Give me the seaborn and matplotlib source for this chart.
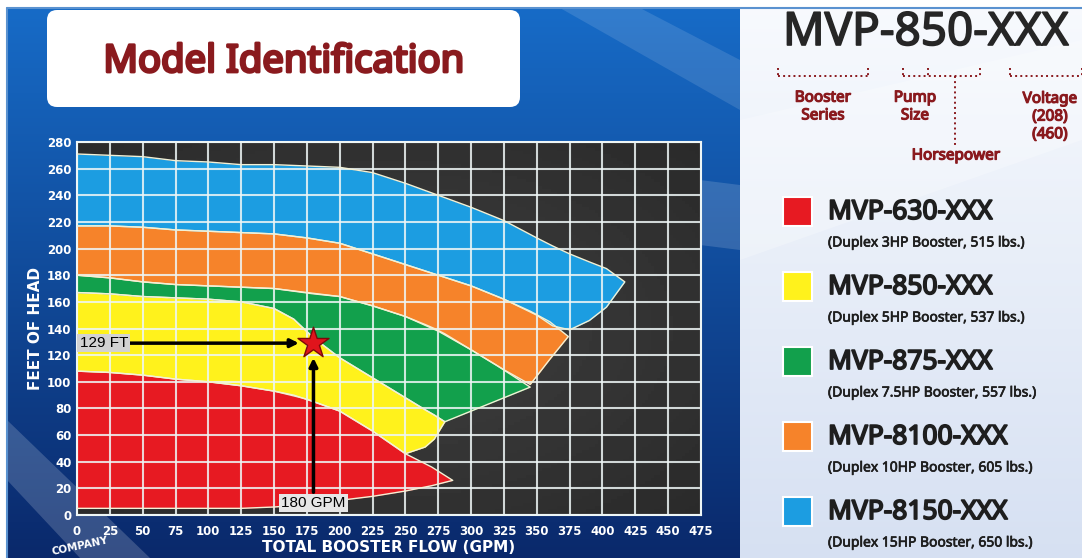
import numpy as np
import pandas as pd
import seaborn as sns
import matplotlib.pyplot as plt
import matplotlib.patheffects as pe
from matplotlib.patches import FancyBboxPatch, Rectangle, Polygon

# values (flow in GPM, head in feet)
flow_630 = [0, 25, 50, 75, 100, 125, 150, 175, 200, 225, 250, 270, 286]
top_630 = [108, 107, 105, 102, 100, 97, 93, 87, 78, 63, 46, 36, 26]
low_630 = [5, 5, 5, 5, 5, 5, 6, 8, 11, 14, 18, 22, 26]

flow_850 = [0, 25, 50, 75, 100, 125, 150, 165, 180, 200, 225, 250, 265, 272, 280]
top_850 = [167, 166, 164, 163, 162, 160, 155, 147, 133, 118, 103, 88, 79, 75, 70]
low_850 = [108, 107, 105, 102, 100, 97, 93, 90, 85, 78, 63, 46, 51, 57, 70]

flow_875 = [0, 25, 50, 75, 100, 125, 150, 165, 180, 200, 225, 250, 265, 272, 280, 300, 320, 345]
top_875 = [180, 178, 175, 173, 172, 171, 170, 168, 166, 164, 157, 149, 143, 140, 136, 124, 112, 96]
low_875 = [167, 166, 164, 163, 162, 160, 155, 147, 133, 118, 103, 88, 79, 75, 70, 78, 86, 96]

flow_8100 = [0, 25, 50, 75, 100, 125, 150, 175, 200, 225, 250, 275, 300, 325, 345, 360, 374]
top_8100 = [217, 217, 216, 214, 213, 212, 211, 208, 204, 196, 188, 180, 172, 162, 153, 145, 134]
low_8100 = [180, 178, 175, 173, 172, 171, 170, 167, 164, 157, 149, 138, 124, 109, 98, 117, 134]

flow_8150 = [0, 25, 50, 75, 100, 125, 150, 175, 200, 225, 250, 275, 300, 325, 350, 362, 375, 390, 403, 417]
top_8150 = [271, 270, 269, 266, 265, 263, 263, 262, 261, 257, 249, 240, 231, 221, 208, 202, 196, 190, 185, 175]
low_8150 = [217, 217, 216, 214, 213, 212, 211, 208, 204, 196, 188, 180, 172, 162, 150, 142, 139, 146, 156, 175]

models = ["MVP-630-XXX", "MVP-850-XXX", "MVP-875-XXX", "MVP-8100-XXX", "MVP-8150-XXX"]
details = ["(Duplex 3HP Booster, 515 lbs.)", "(Duplex 5HP Booster, 537 lbs.)",
           "(Duplex 7.5HP Booster, 557 lbs.)", "(Duplex 10HP Booster, 605 lbs.)",
           "(Duplex 15HP Booster, 650 lbs.)"]
colors = ["#e71a22", "#fff21c", "#12a04c", "#f6832a", "#1c9de1"]

x_ticks = list(range(0, 476, 25))
y_ticks = list(range(0, 281, 20))
point_flow = 180
point_head = 129

bands = [(flow_630, low_630, top_630), (flow_850, low_850, top_850),
         (flow_875, low_875, top_875), (flow_8100, low_8100, top_8100),
         (flow_8150, low_8150, top_8150)]

sns.set_style("dark")
plt.rcParams['font.family'] = ["DejaVu Sans"]
narrow = ["Noto Sans", "DejaVu Sans"]


def nk(stroke, color):
    # condensed Noto Sans, thickened with a stroke of the same colour
    return dict(family=narrow, fontstretch="condensed", color=color,
                path_effects=[pe.withStroke(linewidth=stroke, foreground=color)])


W, H = 1082, 558
fig = plt.figure(figsize=(W / 100, H / 100), dpi=100)

# background, drawn in pixel coordinates
bg = fig.add_axes([0, 0, 1, 1], zorder=-10)
bg.set_xlim(0, W)
bg.set_ylim(H, 0)
bg.axis("off")
grad = np.linspace(0, 1, 200)[:, None]
blue_top = np.array([0.09, 0.42, 0.78])
blue_bot = np.array([0.04, 0.16, 0.42])
img = blue_top[None, None, :] * (1 - grad[..., None]) + blue_bot[None, None, :] * grad[..., None]
bg.imshow(img, extent=[7, 740, H, 8], aspect="auto", zorder=0)
pale_top = np.array([0.97, 0.98, 0.995])
pale_bot = np.array([0.84, 0.88, 0.95])
img2 = pale_top[None, None, :] * (1 - grad[..., None]) + pale_bot[None, None, :] * grad[..., None]
bg.imshow(img2, extent=[740, W, H, 8], aspect="auto", zorder=0)
# lighter diagonal streaks
for pts, a in [([(7, 420), (7, 480), (80, 558), (150, 558)], 0.18),
               ([(560, 8), (640, 8), (740, 60), (740, 110)], 0.12),
               ([(700, 180), (740, 185), (740, 250), (700, 245)], 0.15),
               ([(740, 120), (1082, 40), (1082, 140), (740, 260)], 0.25)]:
    bg.add_patch(Polygon(pts, closed=True, fc="white", ec="none", alpha=a, zorder=1))
bg.plot([7, W], [8, 8], color="#5a92d0", lw=1.5, zorder=2)
bg.plot([7, 7], [8, H], color="#5a92d0", lw=1.5, zorder=2)

red_txt = "#8a1a1e"
dark_txt = "#1e1e1e"

# title box
bg.add_patch(FancyBboxPatch((47, 10), 473, 97, boxstyle="round,pad=0,rounding_size=10",
                            fc="white", ec="none", zorder=3))
bg.text(284, 62, "Model Identification", ha="center", va="center", fontsize=27.5,
        zorder=4, **nk(2.0, red_txt))

# model code breakdown
bg.text(783, 33, "MVP-850-XXX", ha="left", va="center", fontsize=33,
        zorder=4, **nk(1.2, "#262626"))
for x0, x1 in [(778, 868), (903, 980), (1010, 1082)]:
    bg.plot([x0, x1], [76, 76], color=red_txt, lw=1.4, ls=":", zorder=4)
    bg.plot([x0, x0], [68, 76], color=red_txt, lw=1.4, ls=":", zorder=4)
    bg.plot([x1, x1], [68, 76], color=red_txt, lw=1.4, ls=":", zorder=4)
bg.plot([928, 928], [68, 76], color=red_txt, lw=1.4, ls=":", zorder=4)
bg.plot([955, 955], [76, 146], color=red_txt, lw=1.4, ls=":", zorder=4)
lab_kw = dict(ha="center", va="center", fontsize=11, zorder=4, linespacing=1.25,
              **nk(0.9, red_txt))
bg.text(823, 107, "Booster\nSeries", **lab_kw)
bg.text(915, 107, "Pump\nSize", **lab_kw)
bg.text(956, 156, "Horsepower", **lab_kw)
bg.text(1050, 117, "Voltage\n(208)\n(460)", **lab_kw)

# legend
for i, (m, d, c) in enumerate(zip(models, details, colors)):
    y0 = 197 + 75 * i
    bg.add_patch(Rectangle((783, y0), 29, 29, fc=c, ec="white", lw=1.5, zorder=4))
    bg.text(828, y0 + 15, m, ha="left", va="center", fontsize=19, zorder=4,
            **nk(1.3, dark_txt))
    bg.text(828, y0 + 46, d, ha="left", va="center", fontsize=10, zorder=4,
            **nk(0.5, dark_txt))

bg.text(80, 546, "COMPANY", ha="center", va="center", fontsize=7.5, fontweight="bold",
        color="white", rotation=12, zorder=4)

# performance chart
ax = fig.add_axes([77 / W, 1 - 515 / H, 624 / W, 373 / H], zorder=1)
ax.set_xlim(0, 475)
ax.set_ylim(0, 280)
yy, xx = np.mgrid[-1:1:120j, -1:1:200j]
shade = 0.25 - 0.06 * np.sqrt(xx ** 2 + yy ** 2)
ax.imshow(shade, extent=[0, 475, 0, 280], cmap="gray", vmin=0, vmax=1, aspect="auto", zorder=0)

for (fl, lo, hi), c in zip(bands, colors):
    ax.fill_between(fl, lo, hi, color=c, lw=0, zorder=1)
    outline = pd.DataFrame({"flow": fl + fl[::-1], "head": hi + lo[::-1]})
    sns.lineplot(data=outline, x="flow", y="head", sort=False, estimator=None,
                 color="#f3f1d6", lw=1.0, ax=ax, zorder=3)

ax.set_axisbelow(False)
ax.grid(True, color="#eef6f6", lw=1.5, alpha=0.85)
for s in ax.spines.values():
    s.set_color("#eef6f6")
    s.set_linewidth(1.5)
ax.set_xticks(x_ticks)
ax.set_yticks(y_ticks)
ax.tick_params(length=0, colors="white", labelsize=8.5, pad=4)
ax.tick_params(axis="x", pad=7)
for t in ax.get_xticklabels() + ax.get_yticklabels():
    t.set_fontweight("bold")
ax.set_xlabel("TOTAL BOOSTER FLOW (GPM)", color="white", fontsize=11, fontweight="bold",
              labelpad=2)
ax.set_ylabel("FEET OF HEAD", color="white", fontsize=11, fontweight="bold", labelpad=3)

# operating point
ax.annotate("", xy=(point_flow - 9, point_head), xytext=(36, point_head),
            arrowprops=dict(arrowstyle="-|>", color="black", lw=2.5, mutation_scale=12), zorder=5)
ax.annotate("", xy=(point_flow, point_head - 9), xytext=(point_flow, 15),
            arrowprops=dict(arrowstyle="-|>", color="black", lw=2.5, mutation_scale=12), zorder=5)
sns.scatterplot(x=[point_flow], y=[point_head], marker="*", s=550, color="#e0141c",
                edgecolor="#7a0a0a", linewidth=1, ax=ax, zorder=6)
ax.text(2, point_head, f"{point_head} FT", ha="left", va="center", fontsize=11,
        family=["Liberation Sans", "DejaVu Sans"], color="black",
        bbox=dict(fc="#d2d2d2", ec="none", pad=1.5), zorder=6)
ax.text(point_flow, 9, f"{point_flow} GPM", ha="center", va="center", fontsize=11,
        family=["Liberation Sans", "DejaVu Sans"], color="black",
        bbox=dict(fc="#e6e6e6", ec="none", pad=1.5), zorder=6)

fig.savefig("out.png", dpi=100)
